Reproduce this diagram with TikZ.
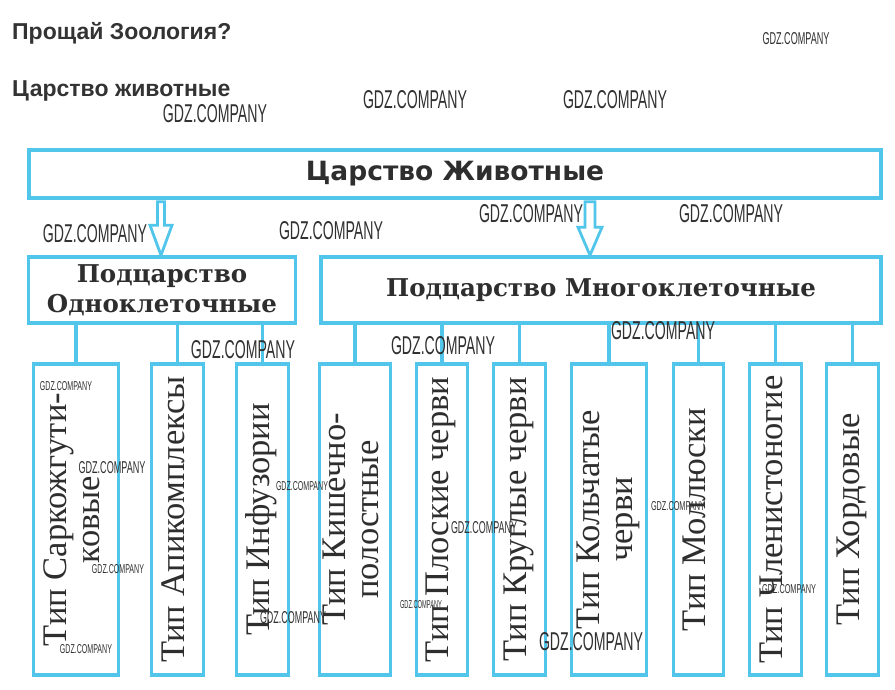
\documentclass[tikz,border=0pt]{standalone}
\usepackage{fontspec}
\usepackage{xcolor}
\usetikzlibrary{calc}
\setmainfont{Liberation Serif}
\newfontfamily\headfont{Liberation Sans}
\newfontfamily\kingfont{DejaVu Sans}
\newfontfamily\subfont{DejaVu Serif}
\newfontfamily\wmfont{Liberation Sans}

% hollow arrow: start, tip, shaft half width, head half width, head length
\newcommand{\hollowarrow}[5]{%
  \draw[arrowline] let \p1=(#1), \p2=(#2) in
    (\x1-#3,\y1) -- (\x1+#3,\y1) -- (\x1+#3,\y2+#5) -- (\x1+#4,\y2+#5)
    -- (\x1,\y2) -- (\x1-#4,\y2+#5) -- (\x1-#3,\y2+#5) -- cycle;}

\begin{document}
\begin{tikzpicture}[x=1pt,y=-1pt,
  mybox/.style={draw=frame,line width=3.5pt,fill=white,inner sep=0pt,text=boxtext},
  typebox/.style={mybox,minimum height=311pt,font=\fontsize{34.5}{33}\selectfont},
  link/.style={draw=frame,line width=3.5pt},
  arrowline/.style={draw=frame,line width=2.8pt,fill=white,line join=miter},
  wm/.style={inner sep=0pt,text=wmgray,font=\wmfont}]
\definecolor{frame}{HTML}{52C6EA}
\definecolor{boxtext}{HTML}{2E2E2E}
\definecolor{titletext}{HTML}{333333}
\definecolor{wmgray}{HTML}{303030}
\path[fill=white,use as bounding box] (0,0) rectangle (895,690);

% headings
\node[anchor=base west,inner sep=0pt,text=titletext,
  font=\headfont\bfseries\fontsize{23}{27}\selectfont] (title) at (12,40) {Прощай Зоология?};
\node[anchor=base west,inner sep=0pt,text=titletext,
  font=\headfont\bfseries\fontsize{23}{27}\selectfont] (kingdom) at (12,97) {Царство животные};

% kingdom and subkingdoms
\node[mybox,minimum width=852pt,minimum height=48pt,
  font=\kingfont\bfseries\fontsize{26.5}{30}\selectfont] (top) at (455,174) {Царство Животные};
\node[mybox,minimum width=267pt,minimum height=66pt,align=center,
  font=\subfont\bfseries\fontsize{24.5}{30}\selectfont] (one) at (162,290) {Подцарство\\Одноклеточные};
\node[mybox,minimum width=560pt,minimum height=66pt,
  font=\subfont\bfseries\fontsize{24.5}{30}\selectfont] (many) at (601,290) {Подцарство Многоклеточные};

\hollowarrow{$(top.south -| one.north)+(-1,2)$}{$(one.north)+(-1,0)$}{3.5pt}{11pt}{30pt}
\hollowarrow{$(top.south)+(135,2)$}{$(many.north)+(-11,0)$}{5pt}{12pt}{28pt}

% phyla
\foreach \name/\cx/\w/\txt in {
  t1/76/85/{Тип Саркожгути-\\ковые},
  t2/177.5/52/{Тип Апикомплексы},
  t3/262.5/52/{Тип Инфузории},
  t4/355/71/{Тип Кишечно-\\полостные},
  t5/442/51/{Тип Плоские черви},
  t6/519.5/52/{Тип Круглые черви},
  t7/609/75/{Тип Кольчатые\\черви},
  t8/698.5/50/{Тип Моллюски},
  t9/775.5/52/{Тип Членистоногие},
  t10/852.5/52/{Тип Хордовые}}
  { \node[typebox,minimum width=\w pt] (\name) at (\cx,519.5)
      {\rotatebox{90}{\begin{tabular}{@{}c@{}}\txt\end{tabular}}}; }

\foreach \name in {t1,t2,t3}
  { \draw[link] (one.south -| \name.north) -- (\name.north); }
\foreach \name in {t4,t5,t6,t7,t8,t9,t10}
  { \draw[link] (many.south -| \name.north) -- (\name.north); }

% watermarks
\foreach \x/\y/\w/\h [count=\i] in {
  796/39/67/12, 215/114/104/18, 415/100/104/18, 615/100/104/18,
  95/234/104/18, 331/231/104/18, 531/214/104/18, 731/214/104/18,
  243/350/104/18, 443/346/104/18, 663/331/104/18, 591/642/104/18,
  66/386/52/9, 112/468/67/12, 118/569/52/9, 86/649/52/9,
  302/486/52/9, 293/618/66/12, 421/605/42/8, 484/528/66/12,
  678/506/54/9, 789/589/54/9}
  { \node[wm] (wm\i) at (\x,\y) {\resizebox{\w pt}{\h pt}{GDZ.COMPANY}}; }
\end{tikzpicture}
\end{document}
